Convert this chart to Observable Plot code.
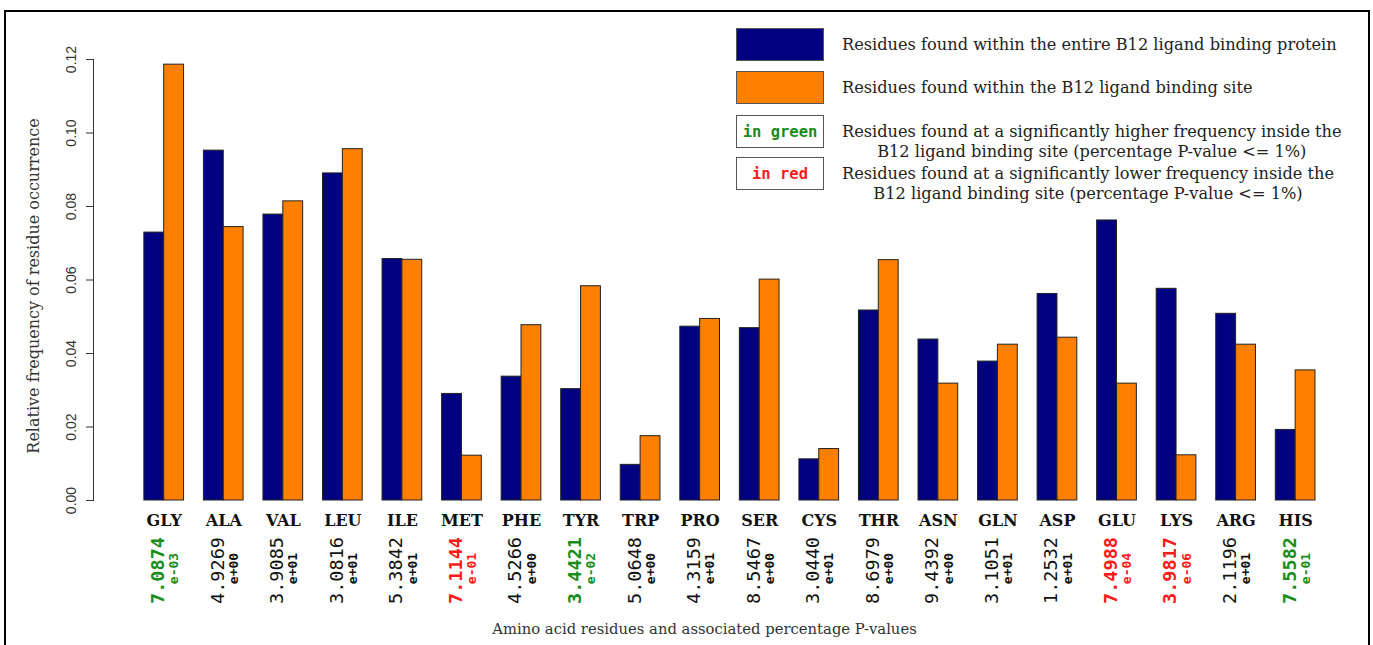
<!DOCTYPE html>
<html><head><meta charset="utf-8">
<script src="https://cdn.jsdelivr.net/npm/d3@7"></script>
<script src="https://cdn.jsdelivr.net/npm/@observablehq/plot@0.6"></script>
<style>
body{margin:0;background:#fff}
#wrap{position:relative;width:1373px;height:645px;overflow:hidden;background:#fff}
#chart{position:absolute;left:0;top:0}
#border{position:absolute;left:4px;top:10px;width:1362px;height:700px;border:2px solid #000;pointer-events:none}
.lg-box{position:absolute;left:736px;width:86px;height:31px;border:1.5px solid #555;box-sizing:content-box;display:flex;align-items:center;justify-content:center;font-family:"DejaVu Sans Mono",monospace;font-weight:bold;font-size:15.5px;background:#fff}
.lg-text{position:absolute;left:842px;font-family:"DejaVu Serif",serif;font-size:16.2px;color:#222;line-height:19.5px;white-space:nowrap}
.lg-text .blk{display:inline-block;text-align:center}
</style>
</head><body>
<div id="wrap">
  <div id="chart"></div>
  <div id="legend"></div>
  <div id="border"></div>
</div>
<script>
const residues = ["GLY","ALA","VAL","LEU","ILE","MET","PHE","TYR","TRP","PRO","SER","CYS","THR","ASN","GLN","ASP","GLU","LYS","ARG","HIS"];
const wholeProtein = [0.0729,0.0952,0.0778,0.0890,0.0657,0.0290,0.0337,0.0303,0.0097,0.0473,0.0469,0.0112,0.0517,0.0438,0.0378,0.0562,0.0762,0.0576,0.0508,0.0192];
const bindingSite  = [0.1186,0.0744,0.0814,0.0956,0.0655,0.0122,0.0477,0.0583,0.0175,0.0494,0.0601,0.0140,0.0654,0.0318,0.0424,0.0443,0.0318,0.0123,0.0424,0.0354];
const pMantissa = ["7.0874","4.9269","3.9085","3.0816","5.3842","7.1144","4.5266","3.4421","5.0648","4.3159","8.5467","3.0440","8.6979","9.4392","3.1051","1.2532","7.4988","3.9817","2.1196","7.5582"];
const pExponent = ["e-03","e+00","e+01","e+01","e+01","e-01","e+00","e-02","e+00","e+01","e+00","e+01","e+00","e+00","e+01","e+01","e-04","e-06","e+01","e-01"];
const pSignificance = ["higher","none","none","none","none","lower","none","higher","none","none","none","none","none","none","none","none","lower","lower","none","higher"];
const yTicks = [0,0.02,0.04,0.06,0.08,0.10,0.12];
const yTitle = "Relative frequency of residue occurrence";
const xTitle = "Amino acid residues and associated percentage P-values";
const legendItems = [
  {box: "", fill: "#000080", lines: ["Residues found within the entire B12 ligand binding protein"]},
  {box: "", fill: "#FF8000", lines: ["Residues found within the B12 ligand binding site"]},
  {box: "in green", color: "#1a8c1a", lines: ["Residues found at a significantly higher frequency inside the","B12 ligand binding site (percentage P-value <= 1%)"]},
  {box: "in red", color: "#ff1a1a", lines: ["Residues found at a significantly lower frequency inside the","B12 ligand binding site (percentage P-value <= 1%)"]}
];

const sigColor = {higher: "#1a8c1a", lower: "#ff1a1a", none: "#111"};
const rows = residues.map((r, i) => ({
  residue: r, whole: wholeProtein[i], site: bindingSite[i],
  mant: pMantissa[i], exp: pExponent[i], sig: pSignificance[i]
}));

const xOpts = {domain: residues, paddingInner: 1/3, paddingOuter: 0.427, align: 1, round: false, axis: null};
const mantOpts = {x: "residue", y: 0, text: "mant", rotate: -90, dy: 70, dx: -6, fontSize: 18.5,
                  fontFamily: "DejaVu Sans Mono, monospace", fill: d => sigColor[d.sig]};

function make(half) {
  return Plot.plot({
    width: 1373, height: 645,
    marginLeft: 93, marginRight: 58, marginTop: 59, marginBottom: 145,
    x: xOpts,
    y: {domain: [0, 0.12], axis: null},
    style: {background: "transparent", overflow: "visible"},
    marks: [
      Plot.barY(rows, {x: "residue", y: "whole", fill: "#000080", stroke: "#222", strokeWidth: 1, insetRight: half}),
      Plot.barY(rows, {x: "residue", y: "site", fill: "#FF8000", stroke: "#222", strokeWidth: 1, insetLeft: half}),
      Plot.ruleY([0], {x1: residues[0], x2: residues[residues.length - 1], stroke: "#8a8a8a", strokeWidth: 1.5}),
      Plot.frame({anchor: "left", stroke: "#333"}),
      Plot.axisY({ticks: yTicks, tickFormat: d3.format(".2f"), tickSize: 7, tickRotate: -90, tickPadding: 11,
                  fontSize: 14, fontFamily: "Liberation Sans, Arial, sans-serif", fill: "#333", stroke: "#333", label: null}),
      Plot.text([yTitle], {frameAnchor: "left", textAnchor: "middle", rotate: -90, dx: -60, dy: 6, fontSize: 16, fontFamily: "DejaVu Serif, serif", fill: "#333"}),
      Plot.text(rows, {x: "residue", y: 0, text: "residue", dy: 20, fontWeight: "bold", fontSize: 16, fontFamily: "DejaVu Serif, serif", fill: "#111"}),
      Plot.text(rows, {...mantOpts, filter: d => d.sig === "none", fontWeight: "normal"}),
      Plot.text(rows, {...mantOpts, filter: d => d.sig !== "none", fontWeight: "bold"}),
      Plot.text(rows, {x: "residue", y: 0, text: "exp", rotate: -90, dy: 68, dx: 10, fontSize: 13, fontWeight: "bold",
                       fontFamily: "DejaVu Sans Mono, monospace", fill: d => sigColor[d.sig]}),
      Plot.text([xTitle], {frameAnchor: "bottom", dy: 133, fontSize: 14.8, fontFamily: "DejaVu Serif, serif", fill: "#333"})
    ]
  });
}

let chart = make(0);
const bw = chart.scale("x").bandwidth;
chart = make(bw / 2);
document.getElementById("chart").append(chart);

// legend
const legend = document.getElementById("legend");
const boxTops = [28, 71, 115, 157];
legendItems.forEach((it, i) => {
  const b = document.createElement("div");
  b.className = "lg-box";
  b.style.top = boxTops[i] + "px";
  if (it.fill) b.style.background = it.fill;
  if (it.color) b.style.color = it.color;
  b.textContent = it.box;
  legend.append(b);
  const t = document.createElement("div");
  t.className = "lg-text";
  const boxCenter = boxTops[i] + 17;
  t.style.top = (boxCenter - 10) + "px";
  const blk = document.createElement("span");
  blk.className = "blk";
  blk.innerHTML = it.lines.map(s => s.replace(/&/g,"&amp;").replace(/</g,"&lt;")).join("<br>");
  t.append(blk);
  legend.append(t);
});
</script>
</body></html>
